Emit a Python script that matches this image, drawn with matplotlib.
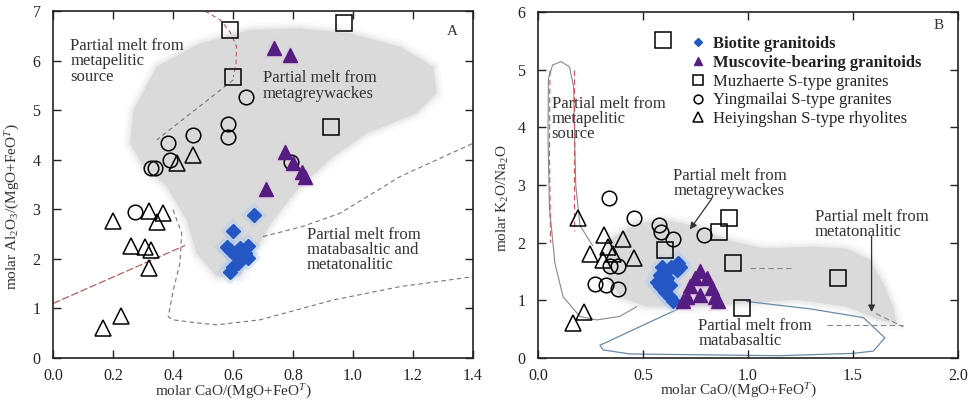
import numpy as np
import matplotlib
matplotlib.use("Agg")
import matplotlib.pyplot as plt

plt.rcParams['font.family'] = ['Liberation Serif', 'DejaVu Serif']
plt.rcParams['mathtext.fontset'] = 'custom'
plt.rcParams['mathtext.rm'] = 'Liberation Serif'
plt.rcParams['mathtext.it'] = 'Liberation Serif:italic'

# ---------------- panel A : Al2O3/(MgO+FeOT) vs CaO/(MgO+FeOT) ----------------
a_bio_x = [0.671, 0.601, 0.59, 0.623, 0.64, 0.607, 0.65, 0.617, 0.60, 0.59, 0.65, 0.58]
a_bio_y = [2.88, 2.56, 2.18, 2.21, 2.11, 2.08, 2.01, 1.91, 1.84, 1.74, 2.25, 2.24]
a_mus_x = [0.737, 0.79, 0.773, 0.80, 0.829, 0.84, 0.71]
a_mus_y = [6.25, 6.11, 4.16, 3.93, 3.76, 3.66, 3.41]
a_muz_x = [0.59, 0.97, 0.60, 0.927]
a_muz_y = [6.62, 6.76, 5.67, 4.66]
a_yin_x = [0.642, 0.582, 0.582, 0.466, 0.382, 0.39, 0.326, 0.34, 0.273, 0.793]
a_yin_y = [5.27, 4.73, 4.46, 4.50, 4.33, 3.99, 3.84, 3.84, 2.95, 3.96]
a_hei_x = [0.412, 0.468, 0.32, 0.368, 0.346, 0.199, 0.26, 0.307, 0.326, 0.321, 0.226, 0.168]
a_hei_y = [3.93, 4.10, 2.97, 2.92, 2.75, 2.76, 2.26, 2.23, 2.18, 1.81, 0.85, 0.61]

# metagreywacke field outline
a_field_x = [0.268, 0.346, 0.49, 0.657, 0.823, 0.99, 1.157, 1.268, 1.279, 1.212, 1.046,
             0.934, 0.823, 0.734, 0.668, 0.623, 0.546, 0.479, 0.446, 0.379, 0.301, 0.257]
a_field_y = [5.00, 5.88, 6.35, 6.62, 6.65, 6.55, 6.28, 5.88, 5.34, 4.94, 4.53,
             4.06, 3.46, 2.78, 2.11, 1.64, 1.64, 2.11, 2.78, 3.46, 3.86, 4.33]
# field boundaries
a_pel_top_x = [0.507, 0.557, 0.59, 0.612, 0.61, 0.601]
a_pel_top_y = [7.0, 6.82, 6.58, 6.28, 5.94, 5.67]
a_div_x = [0.601, 0.346]
a_div_y = [5.61, 4.40]
a_pel_low_x = [0.0, 0.44]
a_pel_low_y = [1.10, 2.27]
a_bas_low_x = [0.40, 0.429, 0.423, 0.401, 0.384, 0.401, 0.49, 0.546, 0.69, 0.934, 1.157, 1.40]
a_bas_low_y = [2.99, 2.52, 1.91, 1.37, 0.83, 0.77, 0.70, 0.67, 0.77, 1.17, 1.44, 1.64]
a_bas_up_x = [0.70, 0.83, 0.957, 1.157, 1.40]
a_bas_up_y = [2.45, 2.65, 2.92, 3.66, 4.33]

# ---------------- panel B : K2O/Na2O vs CaO/(MgO+FeOT) ----------------
b_bio_x = [0.668, 0.636, 0.605, 0.581, 0.565, 0.581, 0.605, 0.629, 0.644, 0.66, 0.613, 0.589, 0.676, 0.629]
b_bio_y = [1.64, 1.58, 1.50, 1.44, 1.32, 1.24, 1.15, 1.06, 0.98, 1.53, 1.38, 1.58, 1.58, 1.27]
b_mus_x = [0.771, 0.748, 0.803, 0.724, 0.827, 0.708, 0.771, 0.843, 0.692, 0.859]
b_mus_y = [1.50, 1.38, 1.38, 1.24, 1.21, 1.06, 1.09, 1.06, 0.98, 0.98]
b_muz_x = [0.594, 0.911, 0.863, 0.605, 0.93, 1.43, 0.97]
b_muz_y = [5.52, 2.42, 2.18, 1.88, 1.64, 1.38, 0.86]
b_yin_x = [0.338, 0.459, 0.578, 0.584, 0.644, 0.79, 0.343, 0.379, 0.271, 0.324, 0.382]
b_yin_y = [2.77, 2.42, 2.31, 2.19, 2.07, 2.13, 1.60, 1.60, 1.28, 1.27, 1.20]
b_hei_x = [0.189, 0.314, 0.406, 0.248, 0.335, 0.359, 0.311, 0.459, 0.22, 0.165]
b_hei_y = [2.42, 2.13, 2.07, 1.81, 1.93, 1.81, 1.70, 1.73, 0.80, 0.61]

b_field_x = [0.343, 0.47, 0.613, 0.756, 0.898, 1.073, 1.311, 1.47, 1.581, 1.644, 1.692,
             1.708, 1.629, 1.47, 1.232, 0.994, 0.756, 0.518, 0.39, 0.327]
b_field_y = [2.05, 2.34, 2.39, 2.28, 2.05, 1.90, 1.93, 1.90, 1.70, 1.30, 0.89,
             0.60, 0.66, 0.89, 1.01, 0.95, 0.89, 0.89, 1.06, 1.47]
b_pel_x = [0.47, 0.39, 0.28, 0.20, 0.12, 0.081, 0.055, 0.048, 0.05, 0.07, 0.11, 0.15,
           0.17, 0.175, 0.18, 0.2, 0.26]
b_pel_y = [0.89, 0.72, 0.66, 0.72, 1.06, 1.64, 2.6, 3.8, 4.85, 5.08, 5.14, 5.05,
           4.7, 3.8, 3.0, 2.3, 1.95]
b_red1_x = [0.057, 0.055, 0.06]
b_red1_y = [4.98, 3.5, 2.0]
b_red2_x = [0.171, 0.171]
b_red2_y = [5.0, 2.2]
b_bas_x = [0.708, 0.295, 0.311, 0.438, 1.15, 1.50, 1.597, 1.652, 1.55, 1.30, 0.994]
b_bas_y = [0.92, 0.22, 0.14, 0.07, 0.04, 0.08, 0.12, 0.35, 0.70, 0.85, 0.98]
b_ton1_x = [1.01, 1.21]
b_ton1_y = [1.56, 1.56]
b_ton2_x = [1.375, 1.74]
b_ton2_y = [0.57, 0.57]
b_ton3_x = [1.61, 1.74]
b_ton3_y = [0.77, 0.54]

BLUE = '#2456c4'
PURPLE = '#551c82'
TXT = '#333333'


def field(ax, x, y):
    ax.fill(x, y, color='#dadada', lw=0, zorder=0)
    for w, a in [(10, 0.12), (6, 0.2), (3, 0.3)]:
        ax.fill(x, y, facecolor='none', edgecolor='#dadada', lw=w, alpha=a, zorder=0)


def points(ax, bx, by, mx, my, zx, zy, yx, yy, hx, hy):
    ax.plot(bx, by, 'D', ms=13, color='#a9c8f2', alpha=0.35, mew=0, zorder=2)
    ax.plot(mx, my, '^', ms=15, color='#eab0e6', alpha=0.35, mew=0, zorder=2)
    kw = dict(ls='none', mfc='none', mec='black', mew=1.1, zorder=3)
    ax.plot(zx, zy, 's', ms=12, label='Muzhaerte S-type granites', **kw)
    ax.plot(yx, yy, 'o', ms=10.5, label='Yingmailai S-type granites', **kw)
    ax.plot(hx, hy, '^', ms=12, label='Heiyingshan S-type rhyolites', **kw)
    ax.plot(bx, by, 'D', ms=7, ls='none', color=BLUE, mec=BLUE, zorder=4,
            label='Biotite granitoids')
    ax.plot(mx, my, '^', ms=9.5, ls='none', color=PURPLE, mec=PURPLE, zorder=4,
            label='Muscovite-bearing granitoids')


def style(ax, xmax, xstep, ymax):
    ax.set_xlim(0, xmax)
    ax.set_ylim(0, ymax)
    ax.set_xticks(np.arange(0, xmax + 1e-9, xstep))
    ax.set_yticks(np.arange(0, ymax + 1, 1))
    ax.tick_params(direction='in', length=6, width=1, top=True, right=True,
                   labelsize=11.5, colors='#222222')
    ax.tick_params(axis='y', pad=9)
    ax.tick_params(axis='x', pad=7)
    for s in ax.spines.values():
        s.set_linewidth(1.2)
        s.set_color('#222222')


fig = plt.figure(figsize=(9.71, 4.07), dpi=100)
axA = fig.add_axes([0.0546, 0.1204, 0.4325, 0.8526])
axB = fig.add_axes([0.554, 0.1204, 0.4325, 0.8502])

# panel A
field(axA, a_field_x, a_field_y)
axA.plot(a_pel_top_x, a_pel_top_y, ls=(0, (4, 3)), color='#b06060', lw=0.8, zorder=1)
axA.plot(a_div_x, a_div_y, ls=(0, (4, 3)), color='#777777', lw=0.8, zorder=1)
axA.plot(a_pel_low_x, a_pel_low_y, ls=(0, (6, 2)), color='#b06060', lw=0.9, zorder=1)
axA.plot(a_bas_low_x, a_bas_low_y, ls=(0, (4, 3)), color='#777777', lw=0.8, zorder=1)
axA.plot(a_bas_up_x, a_bas_up_y, ls=(0, (4, 3)), color='#777777', lw=0.8, zorder=1)
points(axA, a_bio_x, a_bio_y, a_mus_x, a_mus_y, a_muz_x, a_muz_y,
       a_yin_x, a_yin_y, a_hei_x, a_hei_y)
style(axA, 1.4, 0.2, 7)
axA.set_xticklabels(['%.1f' % v for v in np.arange(0, 1.41, 0.2)])
axA.set_xlabel('molar CaO/(MgO+FeO$^T$)', fontsize=11, color=TXT)
axA.xaxis.set_label_coords(0.43, -0.07)
axA.set_ylabel('molar Al$_2$O$_3$/(MgO+FeO$^T$)', fontsize=11, color=TXT)
axA.yaxis.set_label_coords(-0.075, 0.435)
tk = dict(fontsize=12, color=TXT, va='top', ha='left', linespacing=0.93, zorder=5)
axA.text(0.057, 6.45, 'Partial melt from\nmetapelitic\nsource', **tk)
axA.text(0.70, 5.80, 'Partial melt from\nmetagreywackes', **tk)
axA.text(0.847, 2.65, 'Partial melt from\nmatabasaltic and\nmetatonalitic', **tk)
axA.text(1.33, 6.58, 'A', fontsize=11, color=TXT, ha='center', va='center')

# panel B
field(axB, b_field_x, b_field_y)
axB.plot(b_pel_x, b_pel_y, color='#888888', lw=0.8, zorder=1)
axB.plot(b_red1_x, b_red1_y, ls=(0, (5, 3)), color='#e05050', lw=0.8, zorder=1)
axB.plot(b_red2_x, b_red2_y, ls=(0, (5, 3)), color='#e05050', lw=0.8, zorder=1)
axB.plot(b_bas_x, b_bas_y, color='#6a8aa8', lw=0.9, zorder=1)
for lx, ly in [(b_ton1_x, b_ton1_y), (b_ton2_x, b_ton2_y), (b_ton3_x, b_ton3_y)]:
    axB.plot(lx, ly, ls=(0, (5, 3)), color='#888888', lw=0.8, zorder=1)
points(axB, b_bio_x, b_bio_y, b_mus_x, b_mus_y, b_muz_x, b_muz_y,
       b_yin_x, b_yin_y, b_hei_x, b_hei_y)
style(axB, 2.0, 0.5, 6)
axB.set_xticklabels(['%.1f' % v for v in np.arange(0, 2.01, 0.5)])
axB.set_xlabel('molar CaO/(MgO+FeO$^T$)', fontsize=11, color=TXT)
axB.xaxis.set_label_coords(0.476, -0.07)
axB.set_ylabel('molar K$_2$O/Na$_2$O', fontsize=11, color=TXT)
axB.yaxis.set_label_coords(-0.064, 0.462)
axB.text(0.065, 4.55, 'Partial melt from\nmetapelitic\nsource', **tk)
axB.text(0.644, 3.30, 'Partial melt from\nmetagreywackes', **tk)
axB.text(1.319, 2.58, 'Partial melt from\nmetatonalitic', **tk)
axB.text(0.763, 0.70, 'Partial melt from\nmatabasaltic', **tk)
axB.text(1.906, 5.77, 'B', fontsize=11, color=TXT, ha='center', va='center')
axB.annotate('', xy=(0.716, 2.19), xytext=(0.835, 2.80),
             arrowprops=dict(arrowstyle='-|>', color='#333333', lw=0.9), zorder=5)
axB.annotate('', xy=(1.589, 0.75), xytext=(1.589, 2.16),
             arrowprops=dict(arrowstyle='-|>', color='#333333', lw=0.9), zorder=5)

h, l = axB.get_legend_handles_labels()
order = [3, 4, 0, 1, 2]
leg = axB.legend([h[i] for i in order], [l[i] for i in order], loc='upper left',
                 bbox_to_anchor=(0.345, 0.955), frameon=False, fontsize=12,
                 handlelength=0.8, handletextpad=0.5, labelspacing=0.17,
                 borderpad=0, markerscale=0.6)
for t in leg.get_texts()[:2]:
    t.set_fontweight('bold')
for t in leg.get_texts():
    t.set_color('#222222')

fig.savefig('out.png', dpi=100)
